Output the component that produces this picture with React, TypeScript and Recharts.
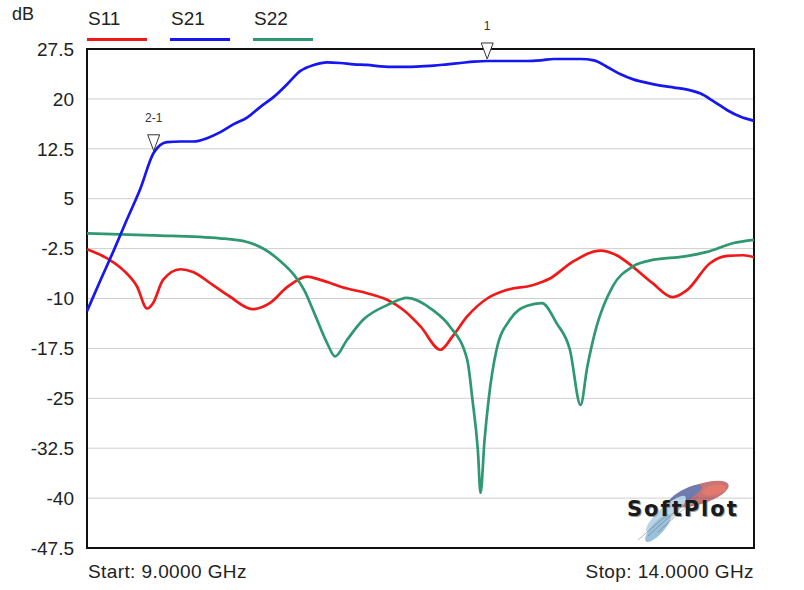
import React from "react";
import {
  LineChart,
  Line,
  XAxis,
  YAxis,
  CartesianGrid,
  ReferenceArea,
  ReferenceDot,
} from "recharts";

// frequencies in GHz, levels in dB
const s11Freq = [9.0, 9.17, 9.27, 9.375, 9.45, 9.495, 9.57, 9.7, 9.795, 9.945, 10.07, 10.24, 10.37, 10.5, 10.65, 10.75, 10.95, 11.1, 11.25, 11.37, 11.5, 11.65, 11.74, 11.85, 12.0, 12.15, 12.34, 12.47, 12.64, 12.85, 12.97, 13.09, 13.24, 13.39, 13.5, 13.67, 13.8, 13.92, 14.0];
const s11Db = [-2.6, -4.2, -5.7, -8.2, -11.5, -10.7, -7.2, -5.6, -6.0, -8.0, -9.7, -11.6, -10.7, -8.3, -6.7, -7.2, -8.5, -9.2, -10.2, -11.7, -14.2, -17.7, -15.7, -12.7, -10.0, -8.7, -8.0, -7.0, -4.5, -2.8, -3.5, -5.2, -7.7, -9.8, -8.7, -4.7, -3.6, -3.5, -3.8];

const s21Freq = [9.0, 9.1, 9.2, 9.3, 9.4, 9.5, 9.6, 9.7, 9.8, 9.9, 10.0, 10.1, 10.2, 10.3, 10.4, 10.5, 10.6, 10.7, 10.8, 10.9, 11.0, 11.1, 11.2, 11.3, 11.4, 11.5, 11.6, 11.7, 11.8, 11.9, 12.0, 12.1, 12.2, 12.3, 12.4, 12.5, 12.6, 12.7, 12.8, 12.9, 13.0, 13.1, 13.2, 13.3, 13.4, 13.5, 13.6, 13.7, 13.8, 13.9, 14.0];
const s21Db = [-11.9, -7.3, -2.8, 1.9, 6.5, 11.9, 13.5, 13.6, 13.6, 14.1, 15.0, 16.2, 17.2, 18.8, 20.3, 22.2, 24.2, 25.1, 25.5, 25.4, 25.2, 25.1, 24.9, 24.8, 24.8, 24.9, 25.0, 25.2, 25.4, 25.6, 25.7, 25.7, 25.7, 25.7, 25.8, 26.0, 26.0, 26.0, 25.8, 24.8, 23.7, 22.9, 22.4, 22.0, 21.7, 21.4, 20.8, 19.6, 18.3, 17.3, 16.7];

const s22Freq = [9.0, 9.495, 9.997, 10.2, 10.33, 10.45, 10.55, 10.63, 10.71, 10.8, 10.86, 10.95, 11.07, 11.25, 11.4, 11.59, 11.72, 11.85, 11.89, 11.93, 11.95, 11.98, 12.01, 12.07, 12.17, 12.3, 12.41, 12.52, 12.62, 12.7, 12.75, 12.82, 12.94, 13.09, 13.24, 13.47, 13.65, 13.84, 14.0];
const s22Db = [-0.2, -0.5, -0.95, -1.5, -2.6, -4.4, -6.4, -8.8, -12.5, -16.7, -18.7, -16.2, -13.2, -11.0, -9.9, -11.7, -14.2, -19.2, -25.3, -32.8, -39.2, -31.3, -25.3, -17.7, -13.2, -11.1, -10.7, -13.7, -17.7, -26.0, -20.3, -14.2, -8.2, -5.2, -4.2, -3.7, -3.0, -1.7, -1.2];

const yTicks = [27.5, 20, 12.5, 5, -2.5, -10, -17.5, -25, -32.5, -40, -47.5];
const xTicks = [9, 9.5, 10, 10.5, 11, 11.5, 12, 12.5, 13, 13.5, 14];

const seriesNames = ["S11", "S21", "S22"];
const seriesColors = ["#f01818", "#1616f0", "#2e9870"];

const markers = [
  { label: "2-1", f: 9.5, db: 11.9 },
  { label: "1", f: 12.0, db: 25.7 },
];

const toPoints = (freq: number[], db: number[]) =>
  freq.map((f, i) => ({ f, v: db[i] }));

const s11 = toPoints(s11Freq, s11Db);
const s21 = toPoints(s21Freq, s21Db);
const s22 = toPoints(s22Freq, s22Db);

const FONT = "'Liberation Sans', Arial, sans-serif";

const MarkerShape = (props: any) => {
  const { cx, cy, label } = props;
  const tip = cy - 2;
  return (
    <g>
      <path
        d={`M${cx - 6},${tip - 16} L${cx + 6},${tip - 16} L${cx},${tip} Z`}
        fill="#fff"
        stroke="#333"
        strokeWidth={1}
      />
      <text
        x={cx}
        y={tip - 29}
        textAnchor="middle"
        fontSize={12}
        fill="#333"
        fontFamily={FONT}
      >
        {label}
      </text>
    </g>
  );
};

export default function App() {
  return (
    <div
      style={{
        position: "absolute",
        left: 0,
        top: 0,
        width: 804,
        height: 590,
        background: "#fff",
        fontFamily: FONT,
      }}
    >
      <LineChart
        width={804}
        height={590}
        margin={{ top: 49, right: 50, bottom: 41, left: 0 }}
      >
        <CartesianGrid stroke="#cfcfcf" strokeWidth={1} />
        <XAxis
          type="number"
          dataKey="f"
          domain={[9, 14]}
          ticks={xTicks}
          tick={false}
          tickLine={false}
          axisLine={false}
          height={1}
          allowDuplicatedCategory={false}
        />
        <YAxis
          type="number"
          domain={[-47.5, 27.5]}
          ticks={yTicks}
          width={87}
          tickLine={false}
          axisLine={false}
          tickSize={0}
          tickMargin={13}
          tick={{ fontSize: 19, fill: "#222", fontFamily: FONT }}
        />
        <ReferenceArea
          x1={9}
          x2={14}
          y1={-47.5}
          y2={27.5}
          fill="none"
          stroke="#111"
          strokeWidth={2}
        />
        <Line data={s11} dataKey="v" type="monotone" stroke={seriesColors[0]} strokeWidth={2.7} dot={false} isAnimationActive={false} />
        <Line data={s22} dataKey="v" type="monotone" stroke={seriesColors[2]} strokeWidth={2.7} dot={false} isAnimationActive={false} />
        <Line data={s21} dataKey="v" type="monotone" stroke={seriesColors[1]} strokeWidth={2.7} dot={false} isAnimationActive={false} />
        {markers.map((m) => (
          <ReferenceDot
            key={m.label}
            x={m.f}
            y={m.db}
            ifOverflow="visible"
            shape={(p: any) => <MarkerShape {...p} label={m.label} />}
          />
        ))}
      </LineChart>

      {/* axis unit and legend */}
      <div style={{ position: "absolute", left: 12, top: 4, fontSize: 18, color: "#222" }}>dB</div>
      {seriesNames.map((n, i) => (
        <div key={n} style={{ position: "absolute", left: 87 + i * 83, top: 8 }}>
          <div style={{ fontSize: 19, color: "#222", marginLeft: 1, lineHeight: "22px" }}>{n}</div>
          <div style={{ width: 60, height: 3, background: seriesColors[i], marginTop: 8 }} />
        </div>
      ))}

      <div style={{ position: "absolute", left: 88, top: 561, fontSize: 19, letterSpacing: 0.4, color: "#222" }}>
        Start: 9.0000 GHz
      </div>
      <div style={{ position: "absolute", right: 50, top: 561, fontSize: 19, letterSpacing: 0.4, color: "#222" }}>
        Stop: 14.0000 GHz
      </div>

      {/* logo */}
      <svg
        width={110}
        height={72}
        style={{ position: "absolute", left: 628, top: 474 }}
      >
        <g opacity={0.7}>
          <ellipse cx={72} cy={20} rx={30} ry={10} transform="rotate(-18 72 20)" fill="#b03a3e" />
          <ellipse cx={56} cy={22} rx={20} ry={6} transform="rotate(-30 56 22)" fill="#34428a" />
          <ellipse cx={38} cy={40} rx={26} ry={7} transform="rotate(-42 38 40)" fill="#9cc4de" />
          <ellipse cx={30} cy={54} rx={18} ry={6} transform="rotate(-48 30 54)" fill="#6fa8cc" />
          <ellipse cx={86} cy={16} rx={12} ry={5} transform="rotate(-12 86 16)" fill="#d8402e" />
          <path d="M10,66 L40,40 M20,62 L55,30 M30,58 L70,22" stroke="#333" strokeWidth={1} opacity={0.5} />
        </g>
      </svg>
      <div
        style={{
          position: "absolute",
          left: 627,
          top: 497,
          fontSize: 21,
          fontWeight: 900,
          color: "#1a1a1a",
          fontFamily: "'DejaVu Sans', sans-serif",
          letterSpacing: 2,
          textShadow: "1px 1px 0 #999",
        }}
      >
        SoftPlot
      </div>
    </div>
  );
}
